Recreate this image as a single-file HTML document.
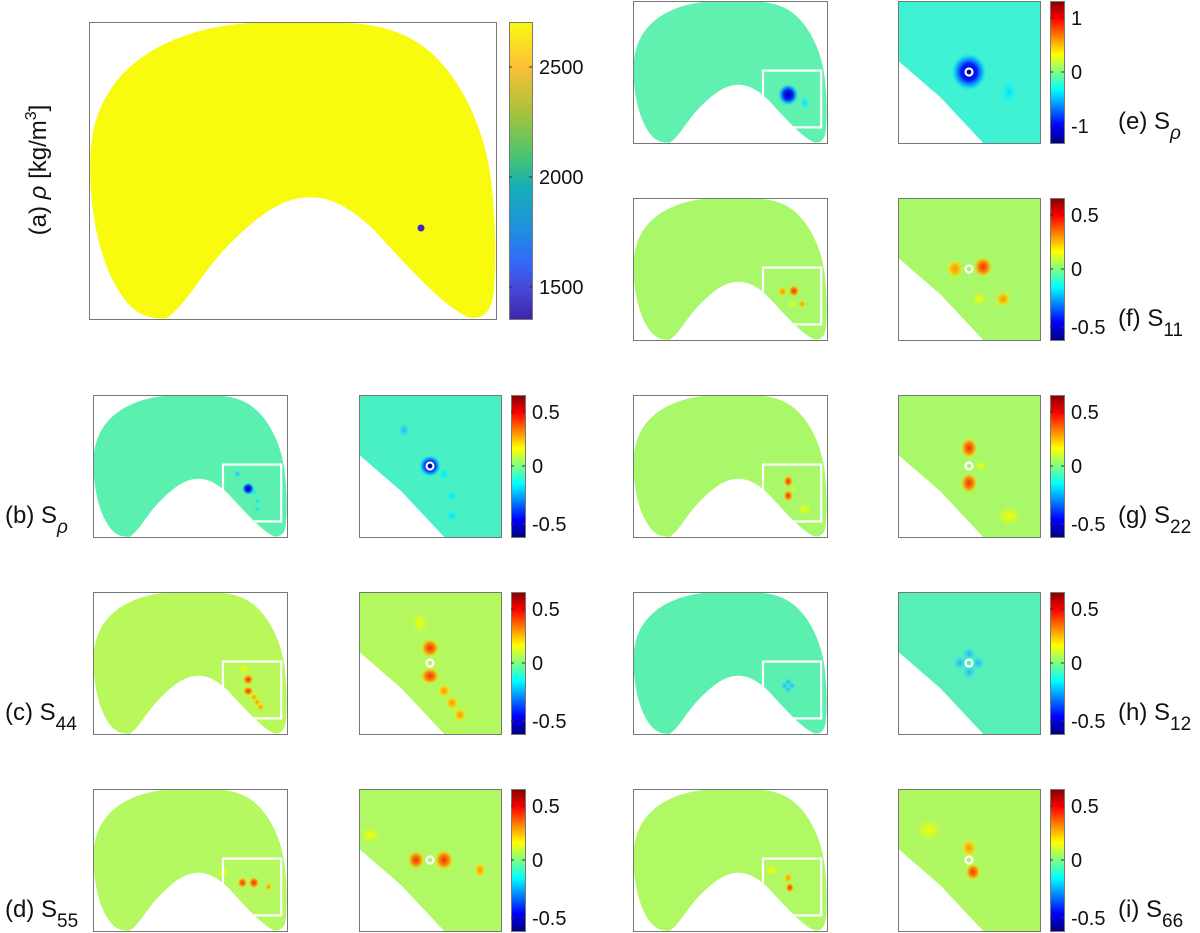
<!DOCTYPE html>
<html><head><meta charset="utf-8">
<style>
html,body{margin:0;padding:0;background:#fff;}
body{width:1200px;height:933px;overflow:hidden;position:relative;font-family:"Liberation Sans",sans-serif;}
svg{position:absolute;left:0;top:0;}
text{font-family:"Liberation Sans",sans-serif;fill:#111;}
</style></head>
<body>
<svg id="s" width="1200" height="933" viewBox="0 0 1200 933" xmlns="http://www.w3.org/2000/svg">
<defs>
<linearGradient id="jet" x1="0" y1="0" x2="0" y2="1">
<stop offset="0" stop-color="#800000"/><stop offset="0.125" stop-color="#ff0000"/>
<stop offset="0.375" stop-color="#ffff00"/><stop offset="0.5" stop-color="#80ff80"/>
<stop offset="0.625" stop-color="#00ffff"/><stop offset="0.875" stop-color="#0000ff"/>
<stop offset="1" stop-color="#000080"/></linearGradient>
<linearGradient id="par" x1="0" y1="0" x2="0" y2="1">
<stop offset="0" stop-color="#f9fb0e"/><stop offset="0.15" stop-color="#fcc03a"/>
<stop offset="0.3" stop-color="#aac23a"/><stop offset="0.45" stop-color="#4ac56e"/>
<stop offset="0.55" stop-color="#17b0b4"/><stop offset="0.7" stop-color="#1e8fde"/>
<stop offset="0.8" stop-color="#336bf7"/><stop offset="0.9" stop-color="#4548d6"/>
<stop offset="1" stop-color="#3e26a8"/></linearGradient>
<radialGradient id="gR"><stop offset="0" stop-color="#f03000"/><stop offset="0.5" stop-color="#ff8000" stop-opacity="0.9"/><stop offset="1" stop-color="#ffff00" stop-opacity="0"/></radialGradient>
<radialGradient id="gO"><stop offset="0" stop-color="#ff9000"/><stop offset="0.5" stop-color="#ffc000" stop-opacity="0.8"/><stop offset="1" stop-color="#ffff00" stop-opacity="0"/></radialGradient>
<radialGradient id="gY"><stop offset="0" stop-color="#f0ff00"/><stop offset="1" stop-color="#f0ff00" stop-opacity="0"/></radialGradient>
<radialGradient id="gB"><stop offset="0" stop-color="#000090"/><stop offset="0.45" stop-color="#0020ff"/><stop offset="0.75" stop-color="#00a0ff" stop-opacity="0.7"/><stop offset="1" stop-color="#00ffff" stop-opacity="0"/></radialGradient>
<radialGradient id="gC"><stop offset="0" stop-color="#20b0ff"/><stop offset="1" stop-color="#20e0ff" stop-opacity="0"/></radialGradient>
<radialGradient id="gc2"><stop offset="0" stop-color="#00e0ff"/><stop offset="1" stop-color="#00ffff" stop-opacity="0"/></radialGradient>
</defs>
<g id="root"></g>
</svg>
<script>
var root=document.getElementById("root");
var SHAPE="M400 3 L620 3 C720 5 800 40 860 130 C930 230 980 400 990 560 C1000 700 1000 800 995 900 C990 990 960 1000 935 995 C880 970 780 820 700 700 C640 620 590 590 545 590 C480 590 420 640 330 770 C270 860 240 950 190 998 C140 1000 110 980 80 920 C30 820 0 650 3 460 C5 330 40 220 110 140 C190 50 300 10 400 3 Z";
var h="";
function box(x,y,w,hh){h+='<rect x="'+(x+0.5)+'" y="'+(y+0.5)+'" width="'+w+'" height="'+hh+'" fill="none" stroke="#777" stroke-width="1"/>';}
function blobs(list,cx,cy,s,m){list.forEach(function(b){h+='<ellipse cx="'+(cx+b[0]*s)+'" cy="'+(cy+b[1]*s)+'" rx="'+(b[2]*s*m)+'" ry="'+(b[3]*s*m)+'" fill="url(#'+b[4]+')"/>';});}
function small(x,y,fill,bl){
  var w=194,hh=142;
  h+='<g transform="translate('+x+','+y+') scale('+(w/1000)+','+(hh/1000)+')"><path d="'+SHAPE+'" fill="'+fill+'"/></g>';
  var cx=x+0.80*w,cy=y+0.66*hh;
  blobs(bl,cx,cy,0.41,1.4);
  h+='<rect x="'+(x+0.67*w)+'" y="'+(y+0.49*hh)+'" width="'+(0.30*w)+'" height="'+(0.40*hh)+'" fill="none" stroke="#fff" stroke-width="2.2"/>';
  box(x,y,w,hh);
}
function zoom(x,y,fill,bl){
  var s=142;
  h+='<rect x="'+x+'" y="'+y+'" width="'+s+'" height="'+s+'" fill="'+fill+'"/>';
  blobs(bl,x+71,y+71,1,1);
  h+='<path d="M'+x+' '+(y+0.42*s)+' L'+(x+0.3*s)+' '+(y+0.68*s)+' L'+(x+0.6*s)+' '+(y+s)+' L'+x+' '+(y+s)+' Z" fill="#fff"/>';
  h+='<circle cx="'+(x+71)+'" cy="'+(y+71)+'" r="3.5" fill="none" stroke="#fff" stroke-width="2.2"/>';
  box(x,y,s,s);
}
function cbar(x,y,w,hh,grad,ticks){
  h+='<rect x="'+x+'" y="'+y+'" width="'+w+'" height="'+hh+'" fill="url(#'+grad+')"/>';
  box(x,y,w,hh);
  ticks.forEach(function(t){
    h+='<line x1="'+x+'" x2="'+(x+3)+'" y1="'+t[1]+'" y2="'+t[1]+'" stroke="#333"/><line x1="'+(x+w-3)+'" x2="'+(x+w)+'" y1="'+t[1]+'" y2="'+t[1]+'" stroke="#333"/>';
    h+='<text x="'+(x+w+7)+'" y="'+(t[1]+7)+'" font-size="20">'+t[0]+'</text>';
  });
}
function label(x,y,pre,sub){
  var it=(sub=="ρ")?' font-style="italic"':'';
  h+='<text x="'+x+'" y="'+y+'" font-size="24">'+pre+'<tspan font-size="19" dy="10"'+it+'>'+sub+'</tspan></text>';
}
h+='<g transform="translate(89,22) scale(0.407,0.297)"><path d="'+SHAPE+'" fill="#f9fb0e"/></g>';
h+='<circle cx="421" cy="228" r="3.5" fill="#3a2cc0"/>';
box(89,22,407,297);
cbar(509,22,23,297,"par",[["2500",67],["2000",177],["1500",287]]);
h+='<text transform="translate(46,170) rotate(-90)" text-anchor="middle" font-size="24">(a) <tspan font-style="italic">ρ</tspan> [kg/m<tspan font-size="16" dy="-10">3</tspan><tspan dy="10">]</tspan></text>';

var P={
 b:{f:"#5cf0b0",z:"#48f0c4",bl:[[0,0,11,11,"gB"],[-26,-36,6,7,"gC"],[14,8,5,6,"gc2"],[22,30,5,6,"gc2"],[22,50,6,6,"gc2"]]},
 c:{f:"#b8f85a",z:"#b4f860",bl:[[0,-15,10,10,"gR"],[0,13,10,9,"gR"],[14,28,7,7,"gO"],[22,40,7,7,"gO"],[30,52,7,7,"gO"],[-10,-40,8,10,"gY"]]},
 d:{f:"#b4f862",z:"#b0f864",bl:[[-14,0,9,10,"gR"],[14,0,10,11,"gR"],[50,10,6,8,"gO"],[-60,-25,10,8,"gY"]]},
 e:{f:"#60f0b0",z:"#40f2d4",bl:[[0,0,18,19,"gB"],[40,20,8,12,"gc2"]]},
 f:{f:"#a8f86a",z:"#a8f86a",bl:[[-14,0,9,10,"gO"],[14,-2,10,11,"gR"],[34,30,8,8,"gO"],[10,30,7,7,"gY"]]},
 g:{f:"#a8f86a",z:"#a8f86a",bl:[[0,-18,9,11,"gR"],[0,17,9,11,"gR"],[12,0,6,5,"gY"],[40,50,12,10,"gY"]]},
 h:{f:"#5cf0b0",z:"#58eeb8",bl:[[-9,0,7,7,"gC"],[9,0,7,7,"gC"],[0,-9,7,7,"gC"],[0,9,7,7,"gC"]]},
 i:{f:"#b0f864",z:"#b0f862",bl:[[0,-12,8,9,"gO"],[4,12,8,9,"gR"],[-40,-30,12,10,"gY"]]}
};
var T5=function(y){return [["0.5",y+17],["0",y+71],["-0.5",y+129]];};
function row(key,sx,zx,cx,y,lx,lab,sub,ticks){
  var p=P[key];
  small(sx,y,p.f,p.bl);
  zoom(zx,y,p.z,p.bl);
  cbar(cx,y,14,142,"jet",ticks||T5(y));
  label(lx,y+128,lab,sub);
}
row("b",93,359,511,395,5,"(b) S","ρ");
row("c",93,359,511,592,5,"(c) S","44");
row("d",93,359,511,789,5,"(d) S","55");
row("e",633,898,1050,1,1118,"(e) S","ρ",[["1",18],["0",72],["-1",126]]);
row("f",633,898,1050,198,1118,"(f) S","11");
row("g",633,898,1050,395,1118,"(g) S","22");
row("h",633,898,1050,592,1118,"(h) S","12");
row("i",633,898,1050,789,1118,"(i) S","66");
root.innerHTML=h;
</script>
</body></html>
